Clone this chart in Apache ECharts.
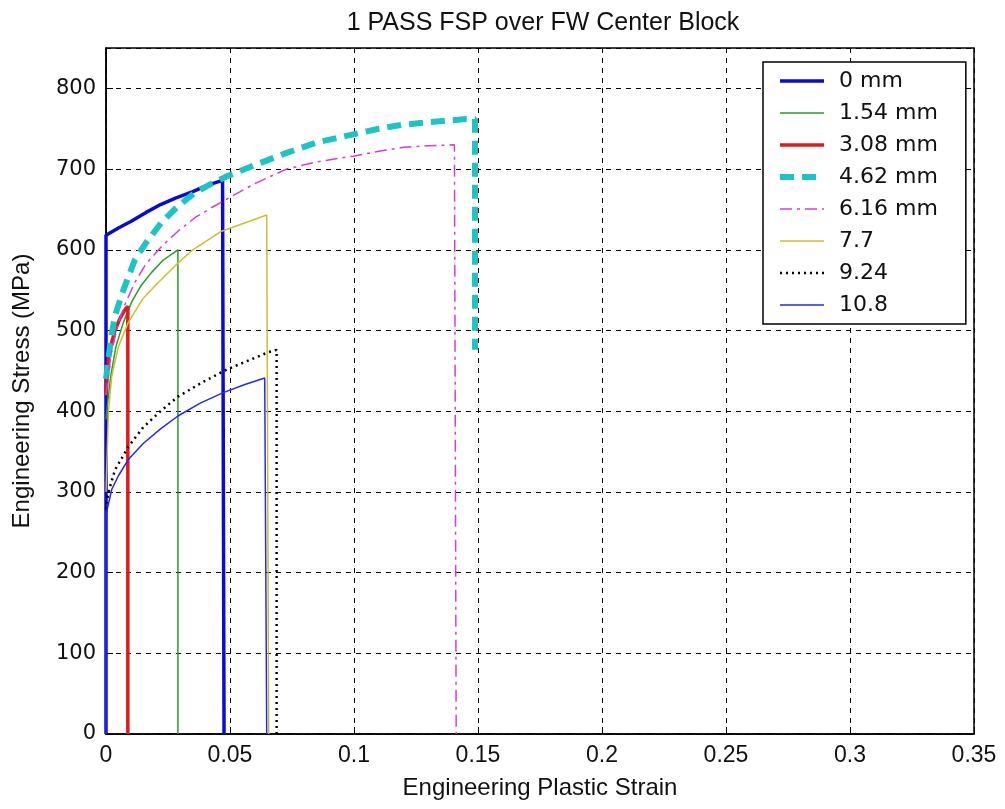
<!DOCTYPE html>
<html>
<head>
<meta charset="utf-8">
<title>1 PASS FSP over FW Center Block</title>
<script src="https://cdn.jsdelivr.net/npm/echarts@6/dist/echarts.min.js"></script>
<style>
  html, body { margin: 0; padding: 0; background: #fff; }
  #chart { width: 1005px; height: 809px; }
</style>
</head>
<body>
<div id="chart"></div>
<script>
// curves: strain (x) and stress in MPa (y)
const names = ['0 mm', '1.54 mm', '3.08 mm', '4.62 mm', '6.16 mm', '7.7', '9.24', '10.8']

const strain0 = [0, 0, 0.005, 0.01, 0.016, 0.022, 0.028, 0.035, 0.041, 0.047, 0.0476, 0.0476]
const stress0 = [0, 618, 627, 635, 646, 656, 664, 672, 680, 686, 687, 0]

const strain1 = [0, 0.001, 0.002, 0.004, 0.007, 0.0103, 0.014, 0.0184, 0.023, 0.029, 0.029]
const stress1 = [390, 420, 445, 480, 510, 535, 555, 572, 587, 600, 0]

const strain2 = [0, 0.001, 0.002, 0.0036, 0.0055, 0.0077, 0.0088, 0.0088]
const stress2 = [420, 465, 482, 500, 514, 526, 530, 0]

const strain3 = [0, 0.002, 0.0036, 0.007, 0.0117, 0.016, 0.0224, 0.029, 0.036, 0.042, 0.048, 0.06, 0.0728, 0.085, 0.0997, 0.11, 0.12, 0.13, 0.1454, 0.1488, 0.1488]
const stress3 = [440, 490, 518, 550, 588, 608, 634, 654, 671, 681, 690, 705, 720, 733, 743, 750, 755, 758, 762, 762, 476]

const strain4 = [0, 0.002, 0.005, 0.008, 0.0117, 0.016, 0.0224, 0.029, 0.036, 0.043, 0.05, 0.06, 0.0728, 0.085, 0.0997, 0.11, 0.12, 0.13, 0.1405, 0.1412, 0.1412]
const stress4 = [420, 470, 510, 535, 560, 582, 604, 623, 640, 653, 665, 682, 700, 709, 716, 722, 727, 729, 730, 730, 0]

const strain5 = [0, 0.001, 0.0023, 0.005, 0.009, 0.015, 0.02, 0.0278, 0.035, 0.0466, 0.0648, 0.0656, 0.0656]
const stress5 = [300, 400, 443, 480, 510, 540, 556, 580, 600, 623, 643, 643, 0]

const strain6 = [0, 0.001, 0.0036, 0.009, 0.015, 0.022, 0.029, 0.039, 0.049, 0.0654, 0.0688, 0.0688]
const stress6 = [278, 300, 327, 356, 380, 400, 418, 436, 452, 473, 476, 0]

const strain7 = [0, 0, 0.0023, 0.005, 0.009, 0.015, 0.022, 0.029, 0.038, 0.0473, 0.056, 0.064, 0.0648, 0.0648]
const stress7 = [0, 272, 303, 320, 340, 360, 378, 394, 410, 423, 433, 441, 441, 0]

const strains = [strain0, strain1, strain2, strain3, strain4, strain5, strain6, strain7]
const stresses = [stress0, stress1, stress2, stress3, stress4, stress5, stress6, stress7]

const styles = [
  { color: '#0a0ad2', width: 3.5, type: 'solid' },
  { color: '#2a9a2a', width: 1.5, type: 'solid' },
  { color: '#e01a1a', width: 3.5, type: 'solid' },
  { color: '#1ec4c4', width: 6, type: [14, 8] },
  { color: '#d040d0', width: 1.5, type: [12, 5, 3, 5] },
  { color: '#c8c030', width: 1.5, type: 'solid' },
  { color: '#000000', width: 2.5, type: [2, 4] },
  { color: '#2828f0', width: 1.5, type: 'solid' }
]

const chart = echarts.init(document.getElementById('chart'))

const option = {
  animation: false,
  backgroundColor: '#fff',
  title: {
    text: '1 PASS FSP over FW Center Block',
    left: 538,
    textAlign: 'center',
    top: 6,
    textStyle: { fontFamily: 'Liberation Sans', fontSize: 25, fontWeight: 'normal', color: '#111' }
  },
  grid: {
    left: 106,
    right: 31,
    top: 48,
    bottom: 75,
    show: true,
    borderColor: '#000',
    borderWidth: 1.5
  },
  legend: {
    orient: 'vertical',
    left: 763,
    top: 62,
    data: names.map((name, i) => ({
      name: name,
      lineStyle: { color: styles[i].color, width: styles[i].width, type: styles[i].type }
    })),
    backgroundColor: '#fff',
    borderColor: '#000',
    borderWidth: 1.5,
    padding: [8, 28, 8, 14],
    itemWidth: 44,
    itemHeight: 14,
    itemGap: 10,
    itemStyle: { opacity: 0 },
    textStyle: { fontFamily: 'DejaVu Sans', fontSize: 22, color: '#111', lineHeight: 22, padding: [0, 0, 0, 10] }
  },
  xAxis: {
    type: 'value',
    min: 0,
    max: 0.35,
    interval: 0.05,
    name: 'Engineering Plastic Strain',
    nameLocation: 'middle',
    nameGap: 42,
    nameTextStyle: { fontFamily: 'Liberation Sans', fontSize: 24, color: '#111' },
    axisLine: { lineStyle: { color: '#000', width: 1.5 } },
    axisTick: { inside: true, length: 7, lineStyle: { color: '#000' } },
    axisLabel: {
      fontFamily: 'Liberation Sans', fontSize: 23, color: '#111', margin: 10,
      formatter: v => String(+v.toFixed(2))
    },
    splitLine: { show: true, lineStyle: { color: '#000', type: [5, 5], width: 1 } }
  },
  yAxis: {
    type: 'value',
    min: 0,
    max: 850,
    interval: 100,
    name: 'Engineering Stress (MPa)',
    nameLocation: 'middle',
    nameGap: 72,
    nameTextStyle: { fontFamily: 'Liberation Sans', fontSize: 24, color: '#111' },
    axisLine: { lineStyle: { color: '#000', width: 1.5 } },
    axisTick: { inside: true, length: 7, lineStyle: { color: '#000' } },
    axisLabel: { fontFamily: 'DejaVu Sans', fontSize: 21, color: '#111', margin: 10, showMaxLabel: false },
    splitLine: { show: true, lineStyle: { color: '#000', type: [5, 5], width: 1 } }
  },
  series: names.map((name, i) => ({
    name: name,
    type: 'line',
    symbol: 'none',
    clip: true,
    color: styles[i].color,
    lineStyle: { color: styles[i].color, width: styles[i].width, type: styles[i].type },
    data: strains[i].map((x, j) => [x, stresses[i][j]])
  }))
}

chart.setOption(option)
</script>
</body>
</html>
